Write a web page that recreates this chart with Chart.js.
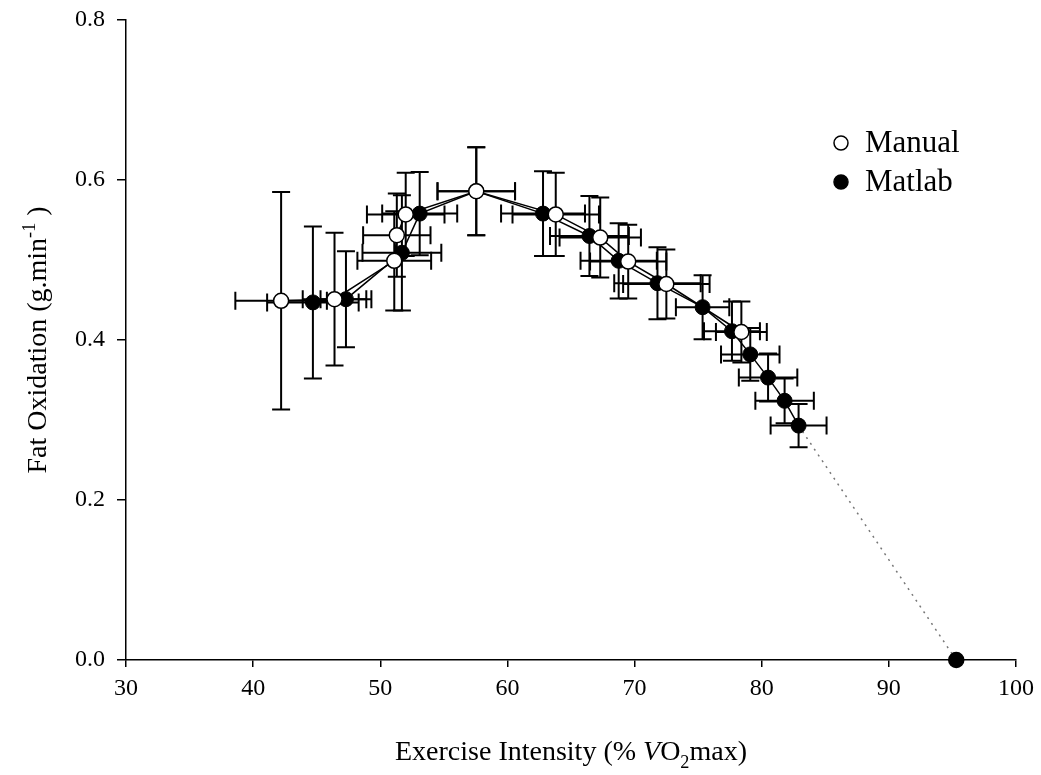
<!DOCTYPE html>
<html>
<head>
<meta charset="utf-8">
<script src="https://cdn.jsdelivr.net/npm/chart.js@4"></script>
<style>
  body { margin: 0; background: #fff; }
  canvas { display: block; }
</style>
</head>
<body>
<canvas id="myChart" width="1041" height="775"></canvas>
<script>
// values
const manualX    = [42.2, 46.4, 51.1, 51.3, 52.0, 57.55, 63.8, 67.3, 69.5, 72.5, 78.4];
const manualY    = [0.449, 0.451, 0.499, 0.531, 0.557, 0.586, 0.557, 0.528, 0.498, 0.470, 0.410];
const manualXErr = [3.6, 2.5, 2.9, 2.65, 3.05, 3.05, 3.4, 3.2, 3.0, 3.4, 2.0];
const manualYErr = [0.136, 0.083, 0.062, 0.052, 0.052, 0.055, 0.052, 0.05, 0.046, 0.043, 0.038];

const matlabX    = [44.7, 47.3, 51.7, 53.1, 57.55, 62.8, 66.45, 68.75, 71.8, 75.35, 77.66, 79.1, 80.5, 81.8, 82.9];
const matlabY    = [0.447, 0.451, 0.509, 0.558, 0.586, 0.558, 0.530, 0.499, 0.471, 0.441, 0.411, 0.382, 0.353, 0.324, 0.293];
const matlabXErr = [3.6, 2.0, 3.1, 2.95, 3.05, 3.3, 3.1, 3.0, 3.4, 2.1, 2.2, 2.3, 2.3, 2.3, 2.2];
const matlabYErr = [0.095, 0.06, 0.072, 0.052, 0.055, 0.053, 0.05, 0.047, 0.045, 0.04, 0.037, 0.033, 0.03, 0.028, 0.027];

// dotted extrapolation to zero fat oxidation
const extrapX = [82.9, 95.3];
const extrapY = [0.293, 0.0];

const xTicks = [30, 40, 50, 60, 70, 80, 90, 100];
const yTicks = [0.0, 0.2, 0.4, 0.6, 0.8];

const FONT = '"Liberation Serif", "Times New Roman", serif';

function toPoints(xs, ys, xe, ye) {
  return xs.map((x, i) => ({ x: x, y: ys[i], xErr: xe ? xe[i] : 0, yErr: ye ? ye[i] : 0 }));
}

// error bars, drawn under the lines and markers
const errorBars = {
  id: 'errorBars',
  beforeDatasetsDraw(chart) {
    const ctx = chart.ctx;
    const xs = chart.scales.x, ys = chart.scales.y;
    const cap = 9;
    ctx.save();
    ctx.strokeStyle = '#000';
    ctx.lineWidth = 2;
    chart.data.datasets.forEach(ds => {
      if (!ds.errorBars) return;
      ds.data.forEach(p => {
        const px = xs.getPixelForValue(p.x);
        const py = ys.getPixelForValue(p.y);
        const x0 = xs.getPixelForValue(p.x - p.xErr), x1 = xs.getPixelForValue(p.x + p.xErr);
        const y0 = ys.getPixelForValue(p.y - p.yErr), y1 = ys.getPixelForValue(p.y + p.yErr);
        ctx.beginPath();
        ctx.moveTo(x0, py); ctx.lineTo(x1, py);
        ctx.moveTo(x0, py - cap); ctx.lineTo(x0, py + cap);
        ctx.moveTo(x1, py - cap); ctx.lineTo(x1, py + cap);
        ctx.moveTo(px, y0); ctx.lineTo(px, y1);
        ctx.moveTo(px - cap, y0); ctx.lineTo(px + cap, y0);
        ctx.moveTo(px - cap, y1); ctx.lineTo(px + cap, y1);
        ctx.stroke();
      });
    });
    ctx.restore();
  }
};

// draws text made of runs (italic / sub / sup)
function drawRuns(ctx, runs, size, cx, cy) {
  const widths = runs.map(r => {
    const s = r.sub || r.sup ? size * 0.65 : size;
    ctx.font = (r.italic ? 'italic ' : '') + s + 'px ' + FONT;
    return ctx.measureText(r.t).width;
  });
  const total = widths.reduce((a, b) => a + b, 0);
  let x = cx - total / 2;
  runs.forEach((r, i) => {
    const s = r.sub || r.sup ? size * 0.65 : size;
    ctx.font = (r.italic ? 'italic ' : '') + s + 'px ' + FONT;
    let dy = 0;
    if (r.sub) dy = size * 0.28;
    if (r.sup) dy = -size * 0.38;
    ctx.fillText(r.t, x, cy + dy);
    x += widths[i];
  });
}

const titlesAndLegend = {
  id: 'titlesAndLegend',
  afterDraw(chart) {
    const ctx = chart.ctx;
    const area = chart.chartArea;
    ctx.save();
    ctx.fillStyle = '#000';
    ctx.textAlign = 'left';
    ctx.textBaseline = 'alphabetic';

    // x axis title
    drawRuns(ctx, [
      { t: 'Exercise Intensity (% ' },
      { t: 'V', italic: true },
      { t: 'O' },
      { t: '2', sub: true },
      { t: 'max)' }
    ], 28, (area.left + area.right) / 2, 760);

    // y axis title
    ctx.translate(46, (area.top + area.bottom) / 2);
    ctx.rotate(-Math.PI / 2);
    drawRuns(ctx, [
      { t: 'Fat Oxidation (g.min' },
      { t: '-1', sup: true },
      { t: ' )' }
    ], 28, 0, 0);
    ctx.setTransform(1, 0, 0, 1, 0, 0);

    // legend
    const items = [
      { label: 'Manual', fill: '#fff', y: 143 },
      { label: 'Matlab', fill: '#000', y: 182 }
    ];
    items.forEach(it => {
      ctx.beginPath();
      ctx.arc(841, it.y, 7, 0, Math.PI * 2);
      ctx.fillStyle = it.fill;
      ctx.fill();
      ctx.lineWidth = 1.5;
      ctx.strokeStyle = '#000';
      ctx.stroke();
      ctx.fillStyle = '#000';
      ctx.font = '31px ' + FONT;
      ctx.textBaseline = 'middle';
      ctx.fillText(it.label, 865, it.y + 1);
    });
    ctx.restore();
  }
};

new Chart(document.getElementById('myChart'), {
  type: 'scatter',
  data: {
    datasets: [
      {
        label: 'Manual',
        data: toPoints(manualX, manualY, manualXErr, manualYErr),
        errorBars: true,
        showLine: true,
        borderColor: '#000',
        borderWidth: 1.5,
        backgroundColor: '#fff',
        pointBackgroundColor: '#fff',
        pointBorderColor: '#000',
        pointBorderWidth: 1.5,
        pointRadius: 7.5,
        clip: false
      },
      {
        label: 'Matlab',
        data: toPoints(matlabX, matlabY, matlabXErr, matlabYErr),
        errorBars: true,
        showLine: true,
        borderColor: '#000',
        borderWidth: 1.5,
        backgroundColor: '#000',
        pointBackgroundColor: '#000',
        pointBorderColor: '#000',
        pointBorderWidth: 1,
        pointRadius: 7.5,
        clip: false
      },
      {
        label: 'Extrapolation',
        data: toPoints(extrapX, extrapY),
        showLine: true,
        borderColor: '#777',
        borderWidth: 1.5,
        borderDash: [2, 5],
        pointBackgroundColor: '#000',
        pointBorderColor: '#000',
        pointRadius: [0, 7.5],
        clip: false
      }
    ]
  },
  options: {
    responsive: false,
    animation: false,
    events: [],
    layout: { padding: { top: 20, right: 25, left: 0, bottom: 0 } },
    plugins: {
      legend: { display: false },
      tooltip: { enabled: false }
    },
    scales: {
      x: {
        type: 'linear',
        min: 30,
        max: 100,
        afterBuildTicks: s => { s.ticks = xTicks.map(v => ({ value: v })); },
        afterFit: s => { s.height = 115; },
        grid: { display: true, drawOnChartArea: false, drawTicks: true, tickLength: 7, color: '#000', lineWidth: 1.5 },
        border: { display: true, color: '#000', width: 1.5 },
        ticks: { color: '#000', padding: 7, maxRotation: 0, font: { family: FONT, size: 24 } },
        title: { display: false }
      },
      y: {
        type: 'linear',
        min: 0,
        max: 0.8,
        afterBuildTicks: s => { s.ticks = yTicks.map(v => ({ value: v })); },
        afterFit: s => { s.width = 126; s.paddingTop = 0; s.paddingBottom = 0; },
        grid: { display: true, drawOnChartArea: false, drawTicks: true, tickLength: 9, color: '#000', lineWidth: 1.5 },
        border: { display: true, color: '#000', width: 1.5 },
        ticks: { color: '#000', padding: 12, font: { family: FONT, size: 24 }, callback: v => Number(v).toFixed(1) },
        title: { display: false }
      }
    }
  },
  plugins: [errorBars, titlesAndLegend]
});
</script>
</body>
</html>
